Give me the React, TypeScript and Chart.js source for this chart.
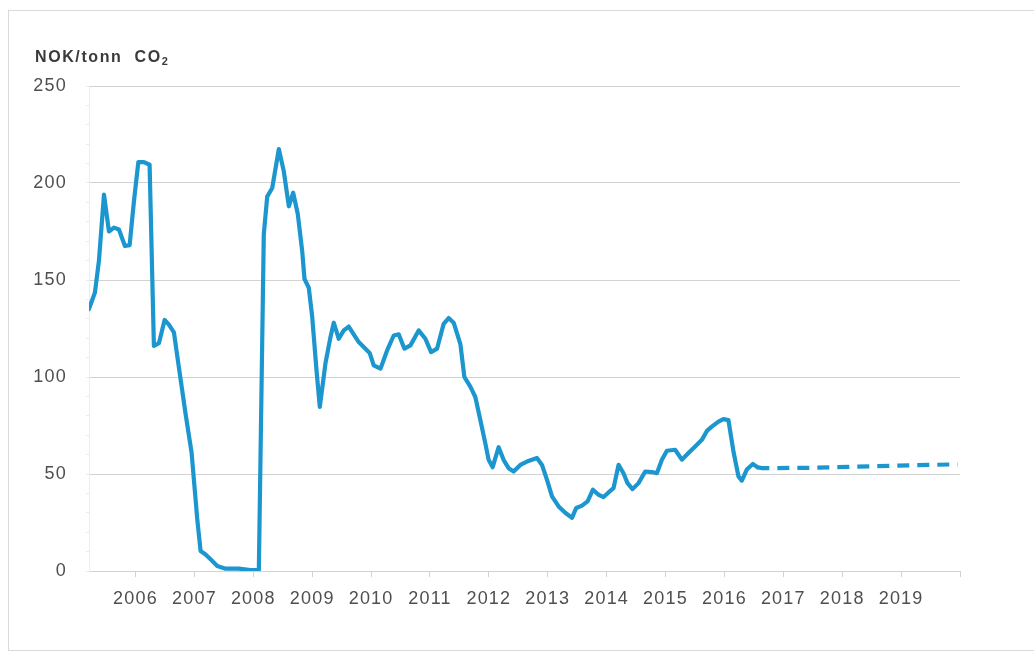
import { useEffect, useRef } from 'react';
import { Chart, registerables } from 'chart.js';

Chart.register(...registerables);

// Quota price history, NOK per tonne CO2 (decimal year, value)
const histYears = [
  2005.209, 2005.311, 2005.379, 2005.464, 2005.549, 2005.634, 2005.718, 2005.82, 2005.9, 2005.973,
  2006.048, 2006.143, 2006.239, 2006.312, 2006.397, 2006.494, 2006.567, 2006.652, 2006.736, 2006.85, 2006.952,
  2007.049, 2007.105, 2007.189, 2007.274, 2007.388, 2007.529, 2007.754, 2007.953,
  2008.094, 2008.178, 2008.236, 2008.321, 2008.433, 2008.518, 2008.603, 2008.677, 2008.755, 2008.83, 2008.869, 2008.942,
  2009.0, 2009.073, 2009.129, 2009.225, 2009.31, 2009.366, 2009.451, 2009.536, 2009.621, 2009.705, 2009.79, 2009.904, 2009.977,
  2010.045, 2010.159, 2010.272, 2010.384, 2010.469, 2010.566, 2010.668, 2010.808, 2010.922,
  2011.019, 2011.12, 2011.232, 2011.317, 2011.402, 2011.516, 2011.584, 2011.685, 2011.77, 2011.855, 2011.94, 2011.996,
  2012.064, 2012.166, 2012.25, 2012.335, 2012.42, 2012.534, 2012.647, 2012.732, 2012.817, 2012.902, 2012.987,
  2013.072, 2013.184, 2013.297, 2013.411, 2013.484, 2013.581, 2013.676, 2013.767, 2013.862, 2013.947,
  2014.032, 2014.117, 2014.202, 2014.286, 2014.354, 2014.439, 2014.541, 2014.655, 2014.768, 2014.853, 2014.938,
  2015.023, 2015.163, 2015.277, 2015.389, 2015.503, 2015.617, 2015.702, 2015.786, 2015.898, 2015.983,
  2016.068, 2016.153, 2016.238, 2016.295, 2016.38, 2016.482, 2016.56,
];
const histValues = [
  135, 143.6, 160, 194, 175, 177, 176, 167.5, 168, 190.6,
  210.8, 210.8, 209.4, 116, 117.4, 129.4, 127, 123, 105, 81, 61,
  26.5, 10.3, 8.5, 6, 2.6, 1.2, 1.2, 0.5,
  0.5, 173.5, 193, 197.4, 217.5, 206, 188, 195, 184, 165, 150.5, 146,
  131, 103.5, 84.6, 107, 120.5, 128, 119.7, 124, 126, 122, 118, 114.6, 112.3,
  106, 104.3, 113.7, 121.4, 122, 114.6, 116.3, 124, 119.7,
  112.8, 114.6, 127.4, 130.4, 128, 117, 100, 95, 89.7, 77.8, 65.8, 57.3,
  53.5, 63.8, 57.3, 53, 51.3, 54.7, 56.4, 57.3, 58.2, 54.7, 47,
  38.5, 33.3, 30, 27.4, 32.5, 33.7, 35.9, 41.9, 39.3, 38.1,
  40.5, 42.7, 54.7, 50.4, 45.3, 42.2, 45.3, 51.3, 51, 50.4, 57.3,
  62, 62.5, 57.4, 60.8, 64.2, 67.6, 72.2, 74.4, 77, 78.3,
  77.8, 61.6, 48.8, 46.6, 52.3, 55.2, 53.5,
];

// Forward prices (dashed)
const forwardYears = [2016.56, 2016.64, 2017.5, 2018.5, 2019.96];
const forwardValues = [53.5, 53.0, 53.2, 54.0, 55.0];

// Axes
const yearTicks = [2006, 2007, 2008, 2009, 2010, 2011, 2012, 2013, 2014, 2015, 2016, 2017, 2018, 2019, 2020];
const yearLabels = ['2006', '2007', '2008', '2009', '2010', '2011', '2012', '2013', '2014', '2015', '2016', '2017', '2018', '2019', ''];
const xMin = 2005.21;
const xMax = 2020;
const yMin = 0;
const yMax = 250;
const yMajorStep = 50;
const yMinorStep = 10;

const unitLabel = 'NOK/tonn  CO';
const unitSub = '2';

const FONT = '"Liberation Sans", Arial, sans-serif';
const LINE_COLOR = 'rgb(28,150,207)';
const GRID_COLOR = '#d2d2d2';
const TEXT_COLOR = '#4f4f4f';

const toPoints = (xs: number[], ys: number[]) => xs.map((x, i) => ({ x, y: ys[i] }));

const spacingPlugin = {
  id: 'letterSpacing',
  beforeUpdate(chart: any) {
    chart.ctx.letterSpacing = '1.2px';
  },
  beforeDraw(chart: any) {
    chart.ctx.letterSpacing = '1.2px';
  },
};

const unitTitlePlugin = {
  id: 'unitTitle',
  afterDraw(chart: any) {
    const { ctx, chartArea } = chart;
    ctx.save();
    ctx.letterSpacing = '1.6px';
    ctx.fillStyle = '#3a3a3a';
    ctx.textBaseline = 'alphabetic';
    ctx.textAlign = 'left';
    ctx.font = `bold 16px ${FONT}`;
    const x = chartArea.left - 54;
    const y = chartArea.top - 24;
    ctx.fillText(unitLabel, x, y);
    const w = ctx.measureText(unitLabel).width;
    ctx.font = `bold 11px ${FONT}`;
    ctx.fillText(unitSub, x + w, y + 3);
    ctx.restore();
  },
};

export default function App() {
  const canvasRef = useRef<HTMLCanvasElement | null>(null);

  useEffect(() => {
    const canvas = canvasRef.current;
    if (!canvas) return;

    const chart = new Chart(canvas, {
      type: 'line',
      data: {
        datasets: [
          {
            data: toPoints(histYears, histValues),
            borderColor: LINE_COLOR,
            borderWidth: 4.2,
            pointRadius: 0,
            tension: 0,
            borderJoinStyle: 'round',
            borderCapStyle: 'round',
            fill: false,
          },
          {
            data: toPoints(forwardYears, forwardValues),
            borderColor: LINE_COLOR,
            borderWidth: 4.2,
            borderDash: [12, 8],
            pointRadius: 0,
            tension: 0,
            borderCapStyle: 'butt',
            fill: false,
          },
        ],
      },
      options: {
        animation: false,
        responsive: true,
        maintainAspectRatio: false,
        layout: { padding: { left: 0, top: 75, right: 73, bottom: 0 } },
        plugins: {
          legend: { display: false },
          tooltip: { enabled: false },
          title: { display: false },
        },
        scales: {
          x: {
            type: 'linear',
            min: xMin,
            max: xMax,
            afterBuildTicks: (scale: any) => {
              scale.ticks = yearTicks.map((value) => ({ value }));
            },
            afterFit: (scale: any) => {
              scale.height = 79;
            },
            grid: {
              drawOnChartArea: false,
              drawTicks: true,
              tickLength: 6,
              color: GRID_COLOR,
            },
            border: { display: true, color: GRID_COLOR },
            ticks: {
              autoSkip: false,
              maxRotation: 0,
              padding: 11,
              color: TEXT_COLOR,
              font: { family: FONT, size: 18 },
              callback: (v: any) => yearLabels[yearTicks.indexOf(Number(v))] ?? '',
            },
          },
          y: {
            type: 'linear',
            min: yMin,
            max: yMax,
            afterBuildTicks: (scale: any) => {
              const t = [];
              for (let v = yMin; v <= yMax; v += yMinorStep) t.push({ value: v });
              scale.ticks = t;
            },
            afterFit: (scale: any) => {
              scale.width = 80;
            },
            grid: {
              drawTicks: true,
              tickLength: 3,
              color: (ctx: any) => (ctx.tick && ctx.tick.value % yMajorStep === 0 ? GRID_COLOR : 'rgba(0,0,0,0)'),
              tickColor: '#ececec',
            },
            border: { display: true, color: '#ededed' },
            ticks: {
              autoSkip: false,
              padding: 19,
              color: TEXT_COLOR,
              font: { family: FONT, size: 18 },
              callback: (v: any) => (Number(v) % yMajorStep === 0 ? String(v) : ''),
            },
          },
        },
      },
      plugins: [spacingPlugin, unitTitlePlugin],
    } as any);

    return () => chart.destroy();
  }, []);

  return (
    <div
      style={{
        position: 'fixed',
        left: 8,
        top: 10,
        width: 1040,
        height: 641,
        border: '1px solid #d9d9d9',
        boxSizing: 'border-box',
        background: '#fff',
      }}
    >
      <div style={{ position: 'relative', width: 1024, height: 639 }}>
        <canvas ref={canvasRef} />
      </div>
    </div>
  );
}
